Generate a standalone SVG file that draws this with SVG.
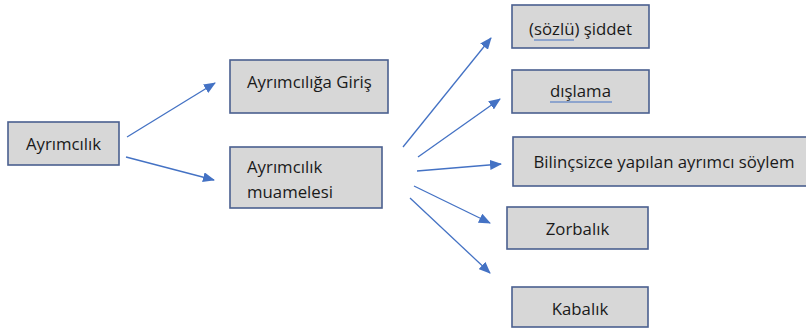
<svg xmlns="http://www.w3.org/2000/svg" width="806" height="329" viewBox="0 0 806 329">
<defs>
<marker id="ah" markerWidth="12" markerHeight="10" refX="11" refY="5" orient="auto" markerUnits="userSpaceOnUse">
<path d="M0,0 L12,5 L0,10 Z" fill="#4472c4"/>
</marker>
<style>
.box{fill:#d7d7d7;stroke:#4a5f8f;stroke-width:1.6}
.t{font-family:"Open Sans","Liberation Sans",sans-serif;font-size:16.8px;fill:#1a1a1a}
.c{stroke:#4472c4;stroke-width:1.3;fill:none;marker-end:url(#ah)}
.ul{stroke:#4472c4;stroke-width:1.2}
</style>
</defs>
<rect width="806" height="329" fill="#ffffff"/>
<g id="connectors">
<line class="c" x1="127" y1="137" x2="215" y2="83"/>
<line class="c" x1="126" y1="157" x2="214" y2="180"/>
<line class="c" x1="403" y1="147" x2="491" y2="38"/>
<line class="c" x1="418" y1="157" x2="500" y2="99"/>
<line class="c" x1="417" y1="171" x2="501" y2="164"/>
<line class="c" x1="414" y1="186" x2="490" y2="223"/>
<line class="c" x1="410" y1="198" x2="490" y2="273"/>
</g>
<g id="n-ayrimcilik">
<rect class="box" x="8" y="122" width="111" height="43"/>
<text class="t" x="63.5" y="150" text-anchor="middle">Ayrımcılık</text>
</g>
<g id="n-giris">
<rect class="box" x="230" y="60" width="158" height="53"/>
<text class="t" x="247" y="88">Ayrımcılığa Giriş</text>
</g>
<g id="n-muamele">
<rect class="box" x="230" y="147" width="152" height="61"/>
<text class="t" x="247" y="173">Ayrımcılık</text>
<text class="t" x="247" y="198">muamelesi</text>
</g>
<g id="n-siddet">
<rect class="box" x="512" y="5" width="137" height="43"/>
<text class="t" x="580.5" y="35" text-anchor="middle">(sözlü) şiddet</text>
<line class="ul" x1="534" y1="40" x2="574" y2="40"/>
</g>
<g id="n-dislama">
<rect class="box" x="512" y="70" width="137" height="43"/>
<text class="t" x="580.5" y="97" text-anchor="middle">dışlama</text>
<line class="ul" x1="550" y1="102" x2="612" y2="102"/>
</g>
<g id="n-bilincsizce">
<rect class="box" x="513" y="137" width="300" height="49"/>
<text class="t" x="664" y="168" text-anchor="middle">Bilinçsizce yapılan ayrımcı söylem</text>
</g>
<g id="n-zorbalik">
<rect class="box" x="507" y="207" width="141" height="42"/>
<text class="t" x="577.5" y="235" text-anchor="middle">Zorbalık</text>
</g>
<g id="n-kabalik">
<rect class="box" x="512" y="287" width="136" height="40"/>
<text class="t" x="580" y="315" text-anchor="middle">Kabalık</text>
</g>
</svg>
